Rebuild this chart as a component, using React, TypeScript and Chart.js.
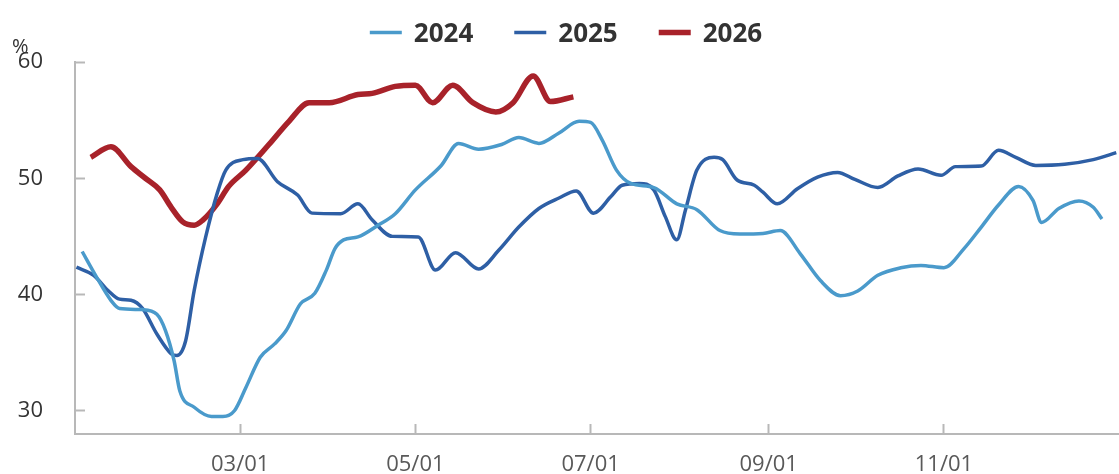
import React, { useEffect, useRef } from "react";
import { Chart, registerables } from "chart.js";

Chart.register(...registerables);

// ---------- data ----------
const seriesNames = ["2024", "2025", "2026"];
const seriesColors = ["#4a9acb", "#2e5fa5", "#a8222a"];
const seriesWidths = [3.5, 3.5, 5.5];

const dates2024 = [
  "01/05", "01/10", "01/15", "01/18", "01/26", "01/31", "02/03", "02/06", "02/08", "02/13",
  "02/19", "02/23", "02/27", "03/03", "03/08", "03/13", "03/17", "03/22", "03/27", "03/31",
  "04/03", "04/06", "04/11", "04/18", "04/24", "05/01", "05/10", "05/16", "05/23", "05/31",
  "06/06", "06/13", "06/20", "06/27", "07/01", "07/05", "07/10", "07/15", "07/23", "07/31",
  "08/07", "08/15", "08/22", "08/30", "09/05", "09/12", "09/19", "09/26", "10/02", "10/09",
  "10/17", "10/24", "11/01", "11/08", "11/14", "11/20", "11/27", "12/02", "12/05", "12/11",
  "12/18", "12/23", "12/26",
];
const values2024 = [
  43.7, 41.5, 39.5, 38.8, 38.7, 38.3, 36.9, 34.3, 31.7, 30.3,
  29.5, 29.5, 30.0, 32.0, 34.6, 35.75, 36.9, 39.2, 40.1, 42.1,
  43.95, 44.7, 44.95, 45.96, 46.95, 49.0, 51.1, 53.0, 52.5, 52.9,
  53.5, 53.0, 53.9, 54.9, 54.8, 53.3, 50.7, 49.55, 49.2, 47.8,
  47.3, 45.5, 45.2, 45.25, 45.5, 43.5, 41.2, 39.9, 40.3, 41.65,
  42.3, 42.5, 42.3, 43.95, 45.8, 47.7, 49.3, 48.1, 46.2, 47.4,
  48.05, 47.5, 46.5,
];

const dates2025 = [
  "01/03", "01/09", "01/14", "01/18", "01/22", "01/26", "01/31", "02/05", "02/07", "02/10",
  "02/13", "02/17", "02/21", "02/24", "03/02", "03/07", "03/14", "03/21", "03/26", "04/05",
  "04/11", "04/16", "04/23", "05/02", "05/08", "05/15", "05/23", "05/30", "06/06", "06/13",
  "06/20", "06/26", "07/02", "07/08", "07/12", "07/18", "07/23", "07/27", "07/31", "08/03",
  "08/07", "08/13", "08/16", "08/21", "08/27", "08/30", "09/04", "09/11", "09/18", "09/25",
  "10/01", "10/09", "10/16", "10/23", "10/31", "11/05", "11/14", "11/20", "11/26", "12/03",
  "12/13", "12/23", "12/31",
];
const values2025 = [
  42.35, 41.65, 40.35, 39.6, 39.5, 38.8, 36.6, 34.9, 34.75, 36.0,
  40.35, 44.95, 48.7, 50.7, 51.6, 51.7, 49.7, 48.55, 47.0, 46.95,
  47.8, 46.4, 45.0, 44.95, 42.1, 43.6, 42.2, 43.8, 45.8, 47.4,
  48.3, 48.9, 47.0, 48.4, 49.4, 49.55, 49.0, 46.7, 44.7, 47.25,
  50.7, 51.8, 51.6, 49.85, 49.4, 48.8, 47.8, 49.1, 50.1, 50.5,
  49.9, 49.2, 50.2, 50.8, 50.25, 51.0, 51.05, 52.4, 51.8, 51.1,
  51.2, 51.6, 52.2,
];

const dates2026 = [
  "01/08", "01/15", "01/22", "01/27", "02/01", "02/05", "02/09", "02/13", "02/16", "02/21",
  "02/25", "03/03", "03/11", "03/18", "03/25", "04/01", "04/11", "04/16", "04/24", "05/01",
  "05/07", "05/14", "05/21", "05/29", "06/04", "06/11", "06/17", "06/25",
];
const values2026 = [
  51.8, 52.7, 51.0, 50.0, 49.0, 47.5, 46.25, 45.96, 46.4, 47.8,
  49.3, 50.7, 52.9, 54.9, 56.5, 56.5, 57.2, 57.3, 57.9, 58.0,
  56.5, 58.0, 56.5, 55.7, 56.5, 58.8, 56.6, 57.0,
];

const xTickDates = ["03/01", "05/01", "07/01", "09/01", "11/01"];
const yTickValues = [30, 40, 50, 60];
const yUnit = "%";

// ---------- helpers ----------
const MONTH_START = [0, 31, 59, 90, 120, 151, 181, 212, 243, 273, 304, 334];
const dayOfYear = (s: string) => {
  const [m, d] = s.split("/").map(Number);
  return MONTH_START[m - 1] + d - 1;
};

const FONT = "'Open Sans', 'Noto Sans', sans-serif";

const legendPlugin = {
  id: "topLegend",
  afterDraw(chart: any) {
    const ctx = chart.ctx;
    ctx.save();
    ctx.font = `bold 26px ${FONT}`;
    const swatch = 32;
    const gapText = 12;
    const gapItem = 41;
    const widths = chart.data.datasets.map((ds: any) => swatch + gapText + ctx.measureText(ds.label).width);
    const total = widths.reduce((a: number, b: number) => a + b, 0) + gapItem * (widths.length - 1);
    let x = 566 - total / 2;
    const cy = 32.5;
    chart.data.datasets.forEach((ds: any, i: number) => {
      ctx.strokeStyle = ds.borderColor;
      ctx.lineWidth = ds.borderWidth;
      ctx.beginPath();
      ctx.moveTo(x, cy);
      ctx.lineTo(x + swatch, cy);
      ctx.stroke();
      ctx.fillStyle = "#333333";
      ctx.textBaseline = "alphabetic";
      ctx.textAlign = "left";
      ctx.fillText(ds.label, x + swatch + gapText, 41.5);
      x += widths[i] + gapItem;
    });
    // unit label
    ctx.font = `20px ${FONT}`;
    ctx.fillStyle = "#333333";
    ctx.fillText(yUnit, 12, 53);
    ctx.restore();
  },
};

export default function App() {
  const canvasRef = useRef<HTMLCanvasElement | null>(null);

  useEffect(() => {
    document.body.style.margin = "0";
    const canvas = canvasRef.current;
    if (!canvas) return;
    const allDates = [dates2024, dates2025, dates2026];
    const allValues = [values2024, values2025, values2026];
    const chart = new Chart(canvas, {
      type: "line",
      data: {
        datasets: seriesNames.map((name, i) => ({
          label: name,
          data: allDates[i].map((d, j) => ({ x: dayOfYear(d), y: allValues[i][j] })),
          borderColor: seriesColors[i],
          backgroundColor: seriesColors[i],
          borderWidth: seriesWidths[i],
          pointRadius: 0,
          pointHoverRadius: 0,
          fill: false,
          cubicInterpolationMode: "monotone" as const,
          borderCapStyle: "butt" as const,
          borderJoinStyle: "round" as const,
        })),
      },
      options: {
        animation: false,
        responsive: false,
        maintainAspectRatio: false,
        layout: { padding: { top: 62, right: 1, left: 0, bottom: 0 } },
        plugins: {
          legend: { display: false },
          tooltip: { enabled: false },
          title: { display: false },
        },
        scales: {
          x: {
            type: "linear",
            min: 1.5,
            max: 364.6,
            afterBuildTicks: (scale: any) => {
              scale.ticks = xTickDates.map((d) => ({ value: dayOfYear(d) }));
            },
            afterFit: (scale: any) => {
              scale.height = 40;
              scale.paddingLeft = 0;
              scale.paddingRight = 0;
            },
            ticks: {
              autoSkip: false,
              maxRotation: 0,
              padding: 28,
              color: "#595959",
              font: { size: 22, family: FONT },
              callback: (value: any) => {
                const idx = xTickDates.findIndex((d) => dayOfYear(d) === value);
                return idx >= 0 ? xTickDates[idx] : "";
              },
            },
            grid: {
              drawOnChartArea: false,
              drawTicks: true,
              tickLength: -10,
              tickColor: "#b8b8b8",
              tickWidth: 2,
              color: "#b8b8b8",
            },
            border: { display: true, color: "#b8b8b8", width: 2 },
          },
          y: {
            type: "linear",
            min: 28,
            max: 60,
            afterBuildTicks: (scale: any) => {
              scale.ticks = yTickValues.map((v) => ({ value: v }));
            },
            afterFit: (scale: any) => {
              scale.width = 75;
              scale.paddingTop = 0;
              scale.paddingBottom = 0;
            },
            ticks: {
              padding: 42,
              color: "#333333",
              font: { size: 22, family: FONT },
            },
            grid: {
              drawOnChartArea: false,
              drawTicks: true,
              tickLength: -10,
              tickColor: "#b8b8b8",
              tickWidth: 2,
              color: "#b8b8b8",
            },
            border: { display: true, color: "#b8b8b8", width: 2 },
          },
        },
      },
      plugins: [legendPlugin],
    });
    return () => chart.destroy();
  }, []);

  return (
    <div style={{ position: "absolute", left: 0, top: 0, width: 1119, height: 474, background: "#ffffff" }}>
      <canvas ref={canvasRef} width={1119} height={474} style={{ width: 1119, height: 474, display: "block" }} />
    </div>
  );
}
